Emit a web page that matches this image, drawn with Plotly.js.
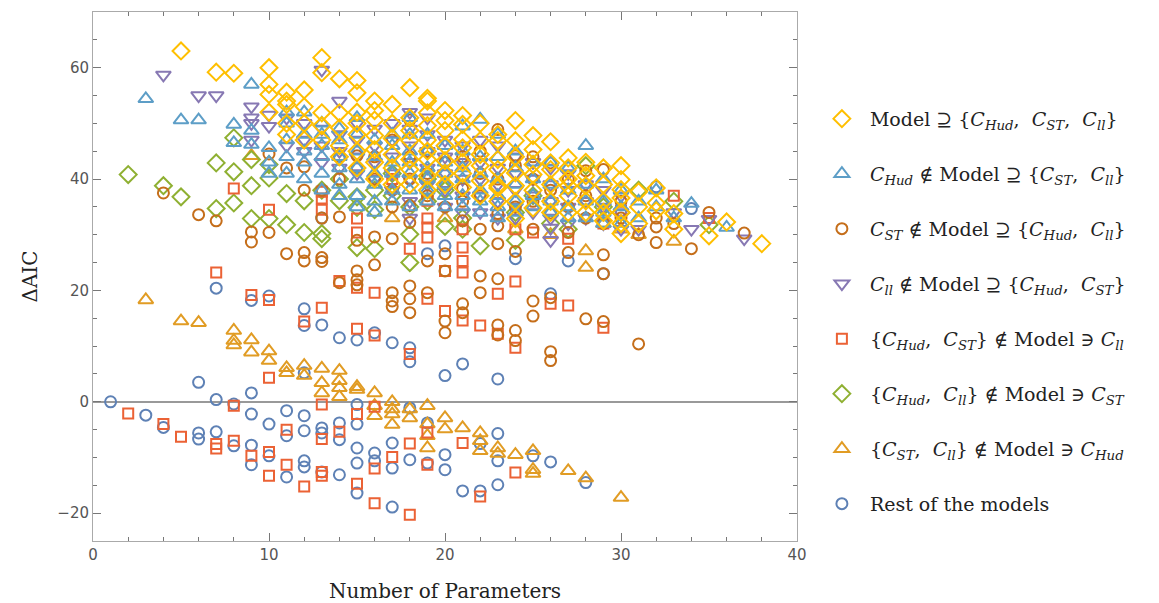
<!DOCTYPE html>
<html><head><meta charset="utf-8">
<script src="https://cdn.plot.ly/plotly-3.0.1.min.js"></script>
<style>html,body{margin:0;padding:0;background:#fff}#chart{width:1159px;height:603px}</style>
</head><body><div id="chart"></div>
<script>
// ---- data: [x, y] pairs ----
const yellowX = [5,7,8,10,10,10,10,11,11,11,11,11,12,12,12,12,13,13,13,13,13,14,14,14,14,14,15,15,15,15,15,15,15,16,16,16,16,16,16,16,17,17,17,17,17,17,18,18,18,18,18,18,18,19,19,19,19,19,19,19,19,19,20,20,20,20,20,20,20,21,21,21,21,21,21,21,22,22,22,22,22,22,23,23,23,23,23,23,23,24,24,24,24,24,24,24,25,25,25,25,25,25,26,26,26,26,26,26,27,27,27,27,27,27,28,28,28,28,28,29,29,29,29,29,30,30,30,30,30,30,30,31,31,31,32,32,32,33,33,35,36,38];
const yellowY = [63,59.2,59,60,57,55.2,52,55.6,54,53.4,50,48,56,53,50,47,61.8,59.1,51.9,49.6,47,58,51.9,49.2,46,44,57.7,55.5,52,50,48,45,42,54,52.3,50.6,47.8,45.3,43,40,53.4,50,47.3,44.4,42,39,56.4,51,48.7,46.9,43.5,41.7,39,54.5,54,51.9,49.6,47,45,43.5,40.6,38,52.3,50.5,48.7,46,43.3,41,39,51.4,49.8,47.1,45.6,43,41,38.5,50,46.9,44.4,42.4,39.7,37,48,46.9,43.5,41.7,38.8,38.4,36,50.5,46.9,44,41.1,38.8,36,32.9,47.8,45.3,42.6,40.8,38,34.8,46.7,42.9,41.7,39,36,34,43.8,42,40,38.8,37,34,43,40.6,38.8,36.1,34,42,39,36,34,32.5,42.4,39.9,38.1,36.6,34,32,30.2,37.7,35,32,38.4,35.7,34.3,33.8,31,29.8,32.3,28.4];

const lblueX = [3,5,6,8,8,9,9,9,10,10,10,11,11,11,11,11,12,12,12,12,12,13,13,13,13,13,13,14,14,14,14,14,14,15,15,15,15,15,15,15,16,16,16,16,16,16,17,17,17,17,17,17,18,18,18,18,18,18,18,19,19,19,19,19,19,20,20,20,20,20,20,21,21,21,21,21,21,22,22,22,22,22,22,23,23,23,23,23,23,24,24,24,24,24,25,25,25,25,26,26,26,26,27,27,27,27,28,28,28,28,29,29,29,29,30,30,30,31,31,32,32,33,34,36];
const lblueY = [54.4,50.6,50.6,49.8,46.5,57,48.7,46.2,45.6,43,41,52,50,47,44,41,52,48,45,43,40,50,48,46,44,41,38,49,47,44,42,39,37,51,48,45,42,40,37,35,47,44,41,39,36,34,48,46,43,41,38,36,51,48,45,43,41,38,35,48,45,42,40,38,36,46,43,41,39,37,35,49.5,45,42,40,37,35,50.7,44,41,38,36,34,48,44,40,37,35,33,45,42,39,36,34,43,40,37,35,43,39,36,34,42,38,35,33,46,39,36,33,40,36,34,32,38,35,32,36,33,38,35,33,35.6,31.3];

const brownX = [4,6,7,9,9,10,10,11,11,12,12,12,12,13,13,13,13,14,14,14,14,15,15,15,15,15,15,16,16,16,16,17,17,17,17,17,17,17,18,18,18,18,18,18,18,18,19,19,19,19,19,20,20,20,20,20,20,20,21,21,21,21,21,21,22,22,22,22,22,22,23,23,23,23,23,23,23,23,24,24,24,24,24,24,25,25,25,25,25,25,26,26,26,26,26,26,27,27,27,27,28,28,28,28,29,29,29,29,29,30,30,31,31,32,32,32,33,34,35,37];
const brownY = [37.5,33.6,32.5,30.5,28.7,30.4,44.5,26.6,42,26.8,25.3,42.2,38,25.9,25.2,33,38,21.4,33.2,40,44,23.5,21.9,21,29,44.2,42,24.6,29.6,40,44,29.3,19.6,18.1,17.1,35,38,47,20.8,18.5,16,35.2,32.2,40,44,50.6,19.6,25.3,37,41,45,26.6,23.5,14.5,12.4,35,39,43,38.3,36,32.5,17.6,16,44,22.6,19.6,31,37,41,45,33.8,31.6,28.4,22.1,13.8,12,48.9,40,27,12.8,11,35,44.2,42.4,18.1,15.4,31,36,40,44,33.9,18.7,9,7.4,38,42.9,30.4,26.8,35,40,14.9,33,37,41.5,26.4,23,14.4,32,41.7,33,36,10.4,30,28.6,31.4,33,32,27.5,34,30.3];

const purpleX = [4,6,7,9,9,9,9,10,10,11,11,12,12,12,13,13,13,13,14,14,14,14,15,15,15,15,16,16,16,16,17,17,17,17,17,18,18,18,18,18,18,18,19,19,19,19,19,20,20,20,20,20,21,21,21,21,21,22,22,22,22,22,23,23,23,23,23,24,24,24,24,24,25,25,25,25,26,26,26,26,26,26,27,27,27,27,28,28,28,29,29,29,30,30,30,31,33,34,35,37];
const purpleY = [58.7,55,55,53,51,50,47,51.5,49.5,51,46,50,47,45,59.6,49,46,43,54,48,45,42,50,47,44,41,49,46,43,40,50,47,44,41,38,52,49,46,43,40,36,33,51,48,45,42,39,47,44,41,38,35,46,43,40,37,34,47,43,40,37,34,46,42,39,36,33,44,41,38,35,33,43,40,37,34,42,39,36,33,31.2,29,41,38,35,32,39,36,33,38,35,32,37,34,31,31,34,31,32.8,29.3];

const redX = [2,4,5,7,7,8,8,9,10,10,10,11,11,12,13,13,13,13,14,15,15,16,16,16,17,18,18,19,19,21,22,24,7,8,9,10,10,12,13,13,13,13,14,15,15,15,15,16,16,17,18,18,19,19,19,19,19,20,20,21,21,21,21,21,22,23,23,24,24,24,25,26,27,27,29,29,30,33,35];
const redY = [-2.1,-4,-6.3,-7.6,-8.4,-7,-0.7,-9.7,-9,-13.3,4.3,-5,-11.3,-15.2,-0.5,-6.7,-12.6,-13.3,-5.4,-2.2,-14.7,-0.9,-12,-18.2,-9.9,-7.5,-20.3,-5.5,-11.3,-7.4,-17,-12.7,23.2,38.3,19.2,18.3,34.5,14.4,37.7,36.5,34.5,16.9,21.7,32.9,30.4,20.5,13.1,19.6,11.9,40,27.5,8.6,36.1,32.9,31.3,29.5,18.5,23.5,16.3,27.7,25.3,23.2,14.6,31,13.7,19.4,12.2,21.6,9.7,31,30.4,17.6,17.3,29.3,13.3,32,34.3,37,33];

const greenX = [2,4,5,7,7,8,8,8,9,9,9,10,10,10,11,11,12,12,13,13,13,14,14,15,15,15,16,16,16,17,17,18,18,18,19,19,20,20,21,21,22,24,24,25,26,27,28,29,30,31,33,35];
const greenY = [40.8,38.8,36.8,42.9,34.7,41.3,35.7,47.4,38.8,32.9,43.5,42.6,40.2,32.9,37.4,31.8,36.1,30.4,30.2,29.3,38,36.1,40,36.8,34.9,27.7,27.5,34.5,38,41,37,30.1,25,35,36,40,38,31.5,31,33,28,29,34,37,32,31,42.4,35,34,38,36,31.8];

const orangeX = [3,5,6,8,8,8,9,9,9,10,10,11,11,12,12,13,13,13,14,14,14,14,15,15,16,16,16,17,17,17,17,17,18,18,19,19,19,19,20,20,20,21,22,22,22,23,23,24,24,25,25,25,26,27,28,28,28,29,30,30,31,33];
const orangeY = [18.3,14.5,14.2,12.8,11,10.2,11.1,8.9,44.2,9.1,7.4,6.1,5.2,6.5,4.7,6,3.4,1.6,5.6,3.8,2.5,0.9,2.7,2.2,1.6,-0.7,-2.5,0,-1.3,-2.2,-4.1,33,-1.3,-2.9,-0.7,-4,-6.1,-8.3,-2.9,-4.9,33,-4.7,-5.6,-7,-8.8,-8.3,-9.3,-9.5,31,-8.8,-12.2,-12.9,30,-12.4,-13.7,27.1,24.1,32,-17.2,31,30,28.8];

const restX = [1,3,4,6,6,6,7,7,7,8,8,9,9,9,9,9,10,10,10,11,11,11,12,12,12,12,12,12,12,13,13,13,13,13,14,14,14,14,15,15,15,15,15,15,16,16,16,17,17,17,17,18,18,18,18,19,19,19,20,20,20,20,21,21,22,22,23,23,23,23,24,25,26,26,27,28,29,32,34];
const restY = [0,-2.4,-4.6,3.5,-5.6,-6.7,0.4,-5.4,20.4,-7.9,-0.4,1.6,-2.2,-7.8,-11.3,18.2,-4,-9.7,19,-1.6,-6.1,-13.5,5.2,-2.5,-5.2,-10.6,-11.7,16.7,13.7,-4.7,-5.6,-12.6,13.8,33,-3.8,-6.8,-13.1,11.5,-0.5,-4,-8.3,-11,-16.4,11.1,-9.2,-10.6,12.4,-7.4,-11.9,-18.9,10.6,-1.1,-10.4,9.7,7.2,-3.8,-11,26.6,4.7,-9.5,-12.2,28,6.8,-16,-16,-7.5,4.1,-5.7,-10.6,-14.9,25.7,-9.7,19.4,-10.8,25.3,-14.5,23,38.6,34.7];

const seriesNames = [
  'Model \u2287 {<i>C</i><sub><i>Hud</i></sub>,  <i>C</i><sub><i>ST</i></sub>,  <i>C</i><sub><i>ll</i></sub>}',
  '<i>C</i><sub><i>Hud</i></sub> \u2209 Model \u2287 {<i>C</i><sub><i>ST</i></sub>,  <i>C</i><sub><i>ll</i></sub>}',
  '<i>C</i><sub><i>ST</i></sub> \u2209 Model \u2287 {<i>C</i><sub><i>Hud</i></sub>,  <i>C</i><sub><i>ll</i></sub>}',
  '<i>C</i><sub><i>ll</i></sub> \u2209 Model \u2287 {<i>C</i><sub><i>Hud</i></sub>,  <i>C</i><sub><i>ST</i></sub>}',
  '{<i>C</i><sub><i>Hud</i></sub>,  <i>C</i><sub><i>ST</i></sub>} \u2209 Model \u220B <i>C</i><sub><i>ll</i></sub>',
  '{<i>C</i><sub><i>Hud</i></sub>,  <i>C</i><sub><i>ll</i></sub>} \u2209 Model \u220B <i>C</i><sub><i>ST</i></sub>',
  '{<i>C</i><sub><i>ST</i></sub>,  <i>C</i><sub><i>ll</i></sub>} \u2209 Model \u220B <i>C</i><sub><i>Hud</i></sub>',
  'Rest of the models'
];

// ---- styling ----
const styles = [
  {x: yellowX, y: yellowY, c: '#FFBF00', s: 'diamond-open', z: 13},
  {x: lblueX, y: lblueY, c: '#5D9EC7', s: 'triangle-up-open', z: 13},
  {x: brownX, y: brownY, c: '#C56E1A', s: 'circle-open', z: 11},
  {x: purpleX, y: purpleY, c: '#8778B3', s: 'triangle-down-open', z: 13},
  {x: redX, y: redY, c: '#EB6235', s: 'square-open', z: 10},
  {x: greenX, y: greenY, c: '#8FB032', s: 'diamond-open', z: 13},
  {x: orangeX, y: orangeY, c: '#E19C24', s: 'triangle-up-open', z: 13},
  {x: restX, y: restY, c: '#5E81B5', s: 'circle-open', z: 11}
];

const traces = [];
for (let i = styles.length - 1; i >= 0; i--) {
  const st = styles[i];
  traces.push({
    type: 'scatter', mode: 'markers', x: st.x, y: st.y,
    name: seriesNames[i], legendgroup: 'g' + i, legendrank: i + 1,
    marker: {symbol: st.s, size: st.z, color: st.c, line: {color: st.c, width: 2}},
    hoverinfo: 'x+y'
  });
}

const serif = 'DejaVu Serif, serif';
const tickFont = {family: 'DejaVu Sans, sans-serif', size: 15, color: '#555'};
const layout = {
  width: 1159, height: 603,
  margin: {l: 93, r: 362, t: 12, b: 62},
  paper_bgcolor: '#fff', plot_bgcolor: '#fff',
  showlegend: true,
  legend: {
    x: 1.024, xanchor: 'left', y: 0.834, yanchor: 'top',
    traceorder: 'grouped', tracegroupgap: 27.3,
    font: {family: serif, size: 19, color: '#222'},
    itemwidth: 46
  },
  xaxis: {
    range: [0, 40], tickvals: [0, 10, 20, 30, 40], showgrid: false, zeroline: false,
    showline: true, linecolor: '#aaa', linewidth: 1, mirror: 'ticks',
    ticks: 'inside', ticklen: 8, tickcolor: '#777', tickwidth: 1,
    minor: {dtick: 2, ticks: 'inside', ticklen: 4, tickcolor: '#777', showgrid: false},
    tickfont: tickFont,
    title: {text: 'Number of Parameters', font: {family: serif, size: 20, color: '#222'}, standoff: 22}
  },
  yaxis: {
    range: [-25, 70], tickvals: [-20, 0, 20, 40, 60], showgrid: false,
    zeroline: true, zerolinecolor: '#999', zerolinewidth: 1.5,
    showline: true, linecolor: '#aaa', linewidth: 1, mirror: 'ticks',
    ticks: 'inside', ticklen: 8, tickcolor: '#777', tickwidth: 1,
    minor: {dtick: 5, ticks: 'inside', ticklen: 4, tickcolor: '#777', showgrid: false},
    tickfont: tickFont,
    title: {text: '\u0394AIC', font: {family: serif, size: 20, color: '#222'}, standoff: 14}
  }
};

Plotly.newPlot('chart', traces, layout, {displayModeBar: false, staticPlot: true});
</script>
</body></html>
